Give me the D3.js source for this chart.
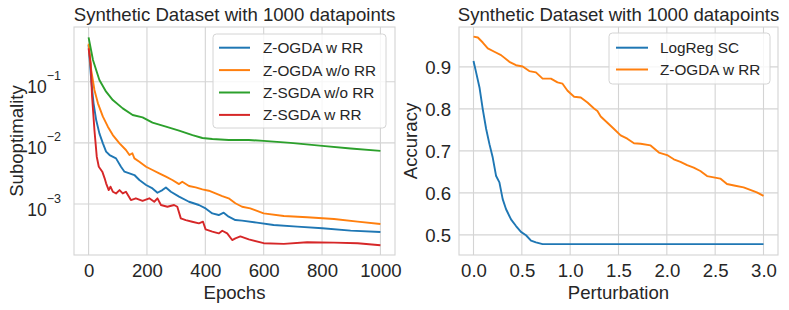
<!DOCTYPE html>
<html>
<head>
<meta charset="utf-8">
<script src="https://cdn.jsdelivr.net/npm/d3@7"></script>
<style>
  html, body { margin: 0; padding: 0; background: #fff; }
  svg { display: block; font-family: "Liberation Sans", Arial, sans-serif; }
</style>
</head>
<body>
<svg id="chart" width="789" height="310"></svg>
<script>
// ---------- Data: left panel (Suboptimality vs Epochs) ----------
const titleText = "Synthetic Dataset with 1000 datapoints";
const leftXTicks = [0, 200, 400, 600, 800, 1000];
const leftYTicks = [1e-1, 1e-2, 1e-3];
const leftYTickExp = ["−1", "−2", "−3"];

const ogdaRREpochs = [0, 9, 17, 26, 37, 49, 60, 72, 94, 111, 123, 140, 157, 174, 197, 219, 236, 253, 265, 282, 310, 344, 378, 401, 424, 446, 463, 480, 503, 526, 577, 634, 715, 801, 898, 1000];
const ogdaRRValues = [0.398, 0.1064, 0.0443, 0.0236, 0.0143, 0.00982, 0.00718, 0.00632, 0.00558, 0.00407, 0.00338, 0.00317, 0.00298, 0.00247, 0.00205, 0.00180, 0.00153, 0.00169, 0.00187, 0.00159, 0.00132, 0.00109, 0.000964, 0.000849, 0.000703, 0.000661, 0.000721, 0.000621, 0.000547, 0.000535, 0.000497, 0.000455, 0.000427, 0.000401, 0.000367, 0.000349];

const ogdaNoRREpochs = [0, 9, 20, 32, 49, 66, 83, 106, 128, 140, 150, 157, 174, 197, 219, 242, 265, 287, 310, 321, 344, 367, 390, 412, 435, 458, 480, 503, 526, 554, 600, 669, 749, 841, 922, 1000];
const ogdaNoRRValues = [0.417, 0.155, 0.0731, 0.0443, 0.0268, 0.0184, 0.0134, 0.00982, 0.00764, 0.00632, 0.00676, 0.00558, 0.00492, 0.00407, 0.00360, 0.00317, 0.00280, 0.00247, 0.00212, 0.00232, 0.00197, 0.00187, 0.00174, 0.00165, 0.00149, 0.00135, 0.00124, 0.00103, 0.000904, 0.000849, 0.000705, 0.000637, 0.000607, 0.000569, 0.000515, 0.000472];

const sgdaNoRREpochs = [0, 15, 37, 60, 83, 117, 151, 185, 219, 265, 310, 356, 390, 424, 480, 549, 600, 692, 801, 898, 1000];
const sgdaNoRRValues = [0.531, 0.226, 0.1064, 0.0687, 0.0501, 0.0366, 0.0285, 0.0261, 0.0214, 0.0184, 0.0158, 0.0134, 0.0120, 0.01156, 0.01112, 0.01112, 0.01079, 0.0100, 0.00893, 0.00809, 0.00741];

const sgdaRREpochs = [0, 7, 12, 20, 28, 35, 47, 55, 60, 69, 75, 83, 94, 106, 117, 128, 145, 162, 185, 208, 225, 236, 248, 270, 293, 304, 316, 333, 355, 378, 392, 401, 424, 446, 458, 475, 492, 503, 520, 549, 600, 669, 749, 841, 922, 1000];
const sgdaRRValues = [0.351, 0.200, 0.0569, 0.0162, 0.00594, 0.00407, 0.00338, 0.00263, 0.00218, 0.00169, 0.00192, 0.00159, 0.00149, 0.00169, 0.00149, 0.00159, 0.00116, 0.00124, 0.00113, 0.00124, 0.00109, 0.00124, 0.000964, 0.000904, 0.000964, 0.000904, 0.000583, 0.000547, 0.000514, 0.000483, 0.000514, 0.000385, 0.000353, 0.000331, 0.000366, 0.000331, 0.000258, 0.000275, 0.000295, 0.000264, 0.000229, 0.000223, 0.000237, 0.000234, 0.000229, 0.000212];

const leftSeriesNames = ["Z-OGDA w RR", "Z-OGDA w/o RR", "Z-SGDA w/o RR", "Z-SGDA w RR"];

// ---------- Data: right panel (Accuracy vs Perturbation) ----------
const rightXTicks = [0.0, 0.5, 1.0, 1.5, 2.0, 2.5, 3.0];
const rightYTicks = [0.5, 0.6, 0.7, 0.8, 0.9];

const logRegPert = [0, 0.027, 0.062, 0.096, 0.131, 0.165, 0.199, 0.234, 0.268, 0.302, 0.337, 0.388, 0.440, 0.491, 0.543, 0.595, 0.646, 0.715, 3.0];
const logRegAcc = [0.914, 0.887, 0.851, 0.799, 0.752, 0.716, 0.684, 0.640, 0.625, 0.585, 0.561, 0.537, 0.521, 0.507, 0.499, 0.486, 0.482, 0.478, 0.478];

const ogdaPert = [0, 0.045, 0.096, 0.148, 0.216, 0.285, 0.371, 0.440, 0.509, 0.577, 0.646, 0.715, 0.801, 0.869, 0.921, 0.973, 1.041, 1.110, 1.179, 1.247, 1.282, 1.316, 1.385, 1.454, 1.522, 1.591, 1.660, 1.729, 1.832, 1.918, 2.003, 2.072, 2.141, 2.210, 2.278, 2.347, 2.416, 2.485, 2.553, 2.622, 2.708, 2.794, 2.863, 2.931, 3.0];
const ogdaAcc = [0.972, 0.970, 0.958, 0.944, 0.936, 0.928, 0.912, 0.904, 0.901, 0.890, 0.887, 0.872, 0.872, 0.863, 0.860, 0.843, 0.829, 0.827, 0.815, 0.801, 0.795, 0.782, 0.767, 0.752, 0.737, 0.729, 0.718, 0.717, 0.713, 0.696, 0.690, 0.680, 0.674, 0.666, 0.660, 0.652, 0.640, 0.637, 0.634, 0.621, 0.617, 0.613, 0.607, 0.601, 0.593];

const rightSeriesNames = ["LogReg SC", "Z-OGDA w RR"];

// ---------- Styles ----------
const colors = ["#1f77b4", "#ff7f0e", "#2ca02c", "#d62728"];
const textColor = "#262626";
const gridColor = "#d4d4d4";
const fontSize = 18.6;

const svg = d3.select("#chart");

function zip(xs, ys) { return xs.map((x, i) => [x, ys[i]]); }

function frame(g, x0, x1, y0, y1) {
  g.append("rect").attr("x", x0).attr("y", y0).attr("width", x1 - x0).attr("height", y1 - y0)
    .attr("fill", "none").attr("stroke", gridColor).attr("stroke-width", 1.1);
}

function legend(g, x, y, w, h, names, cols, lineX0, lineX1, textX, rowY0, rowStep) {
  g.append("rect").attr("x", x).attr("y", y).attr("width", w).attr("height", h).attr("rx", 3.5)
    .attr("fill", "#fff").attr("fill-opacity", 0.8).attr("stroke", gridColor).attr("stroke-width", 1);
  names.forEach((n, i) => {
    const yy = rowY0 + i * rowStep;
    g.append("line").attr("x1", lineX0).attr("x2", lineX1).attr("y1", yy).attr("y2", yy)
      .attr("stroke", cols[i]).attr("stroke-width", 2);
    g.append("text").attr("x", textX).attr("y", yy + 5.5).attr("fill", textColor)
      .attr("font-size", 15.3).text(n);
  });
}

// ---------- Left panel ----------
{
  const L = { x0: 74, x1: 395, y0: 27, y1: 255 };
  const x = d3.scaleLinear().domain([-50, 1050]).range([L.x0, L.x1]);
  const y = d3.scaleLog().domain([Math.pow(10, -3.833), Math.pow(10, -0.106)]).range([L.y1, L.y0]);
  const g = svg.append("g");

  // grid
  g.selectAll(".vg").data(leftXTicks).enter().append("line")
    .attr("x1", d => x(d)).attr("x2", d => x(d)).attr("y1", L.y0).attr("y2", L.y1)
    .attr("stroke", gridColor).attr("stroke-width", 1.1);
  g.selectAll(".hg").data(leftYTicks).enter().append("line")
    .attr("x1", L.x0).attr("x2", L.x1).attr("y1", d => y(d)).attr("y2", d => y(d))
    .attr("stroke", gridColor).attr("stroke-width", 1.1);
  frame(g, L.x0, L.x1, L.y0, L.y1);

  // x tick labels via axis
  const xa = g.append("g").attr("transform", `translate(0,${L.y1})`)
    .call(d3.axisBottom(x).tickValues(leftXTicks).tickSize(0).tickPadding(0).tickFormat(d3.format("d")));
  xa.select(".domain").remove();
  xa.selectAll("text").attr("font-size", fontSize).attr("fill", textColor)
    .attr("font-family", "Liberation Sans, Arial, sans-serif").attr("dy", null).attr("y", 22);

  // y tick labels (10^k)
  leftYTicks.forEach((t, i) => {
    const tx = g.append("text").attr("x", 61).attr("y", y(t) + 11.6).attr("text-anchor", "end")
      .attr("fill", textColor);
    tx.append("tspan").attr("font-size", 17.5).text("10");
    tx.append("tspan").attr("font-size", 12.5).attr("dy", -13).text(leftYTickExp[i]);
  });

  // lines
  const line = d3.line().x(d => x(d[0])).y(d => y(d[1]));
  const series = [
    zip(ogdaRREpochs, ogdaRRValues),
    zip(ogdaNoRREpochs, ogdaNoRRValues),
    zip(sgdaNoRREpochs, sgdaNoRRValues),
    zip(sgdaRREpochs, sgdaRRValues)
  ];
  // draw order: matplotlib plots in legend order
  series.forEach((s, i) => {
    g.append("path").datum(s).attr("d", line).attr("fill", "none")
      .attr("stroke", colors[i]).attr("stroke-width", 1.9).attr("stroke-linejoin", "round");
  });

  // labels
  g.append("text").attr("x", (L.x0 + L.x1) / 2).attr("y", 20.5).attr("text-anchor", "middle")
    .attr("font-size", fontSize).attr("fill", textColor).text(titleText);
  g.append("text").attr("x", (L.x0 + L.x1) / 2).attr("y", 298.5).attr("text-anchor", "middle")
    .attr("font-size", fontSize).attr("fill", textColor).text("Epochs");
  g.append("text").attr("transform", `translate(22.5,${(L.y0 + L.y1) / 2}) rotate(-90)`)
    .attr("text-anchor", "middle").attr("font-size", fontSize).attr("fill", textColor).text("Suboptimality");

  legend(g, 213, 34, 173, 94, leftSeriesNames, colors, 219, 250, 263, 47.7, 22.4);
}

// ---------- Right panel ----------
{
  const R = { x0: 459, x1: 778, y0: 27, y1: 255 };
  const x = d3.scaleLinear().domain([-0.15, 3.15]).range([R.x0, R.x1]);
  const y = d3.scaleLinear().domain([0.452, 0.995]).range([R.y1, R.y0]);
  const g = svg.append("g");

  g.selectAll(".vg").data(rightXTicks).enter().append("line")
    .attr("x1", d => x(d)).attr("x2", d => x(d)).attr("y1", R.y0).attr("y2", R.y1)
    .attr("stroke", gridColor).attr("stroke-width", 1.1);
  g.selectAll(".hg").data(rightYTicks).enter().append("line")
    .attr("x1", R.x0).attr("x2", R.x1).attr("y1", d => y(d)).attr("y2", d => y(d))
    .attr("stroke", gridColor).attr("stroke-width", 1.1);
  frame(g, R.x0, R.x1, R.y0, R.y1);

  const xa = g.append("g").attr("transform", `translate(0,${R.y1})`)
    .call(d3.axisBottom(x).tickValues(rightXTicks).tickSize(0).tickPadding(0).tickFormat(d3.format(".1f")));
  xa.select(".domain").remove();
  xa.selectAll("text").attr("font-size", fontSize).attr("fill", textColor)
    .attr("font-family", "Liberation Sans, Arial, sans-serif").attr("dy", null).attr("y", 22);

  const ya = g.append("g").attr("transform", `translate(${R.x0},0)`)
    .call(d3.axisLeft(y).tickValues(rightYTicks).tickSize(0).tickPadding(8).tickFormat(d3.format(".1f")));
  ya.select(".domain").remove();
  ya.selectAll("text").attr("font-size", fontSize).attr("fill", textColor)
    .attr("font-family", "Liberation Sans, Arial, sans-serif").attr("dy", "0.36em");

  const line = d3.line().x(d => x(d[0])).y(d => y(d[1]));
  const series = [zip(logRegPert, logRegAcc), zip(ogdaPert, ogdaAcc)];
  series.forEach((s, i) => {
    g.append("path").datum(s).attr("d", line).attr("fill", "none")
      .attr("stroke", colors[i]).attr("stroke-width", 1.9).attr("stroke-linejoin", "round");
  });

  g.append("text").attr("x", (R.x0 + R.x1) / 2).attr("y", 20.5).attr("text-anchor", "middle")
    .attr("font-size", fontSize).attr("fill", textColor).text(titleText);
  g.append("text").attr("x", (R.x0 + R.x1) / 2).attr("y", 298.5).attr("text-anchor", "middle")
    .attr("font-size", fontSize).attr("fill", textColor).text("Perturbation");
  g.append("text").attr("transform", `translate(416.5,${(R.y0 + R.y1) / 2}) rotate(-90)`)
    .attr("text-anchor", "middle").attr("font-size", fontSize).attr("fill", textColor).text("Accuracy");

  legend(g, 609, 33, 161, 51, rightSeriesNames, colors, 616, 648, 660, 47.7, 21.8);
}
</script>
</body>
</html>
